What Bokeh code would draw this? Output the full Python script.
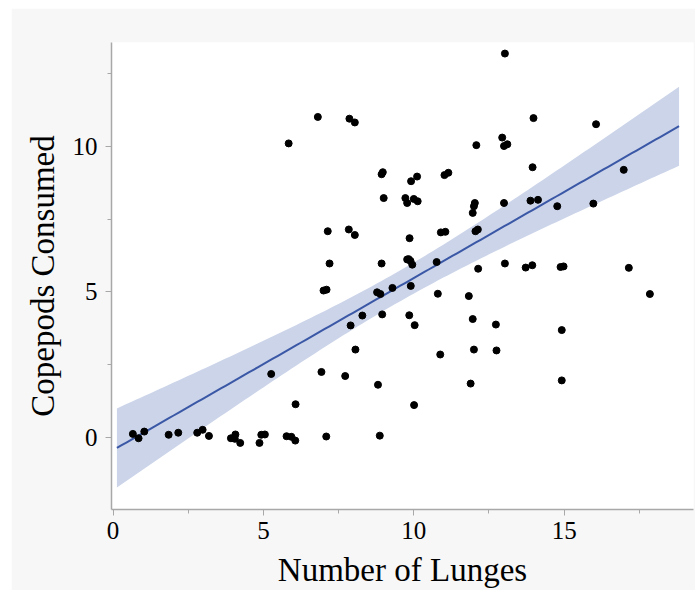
import numpy as np
from bokeh.plotting import figure
from bokeh.models import Range1d, SingleIntervalTicker, Spacer
from bokeh.layouts import column, row
from bokeh.embed import file_html
from bokeh.resources import INLINE

# Number of lunges (x) and copepods consumed (y)
lunges = [0.66, 0.85, 1.04, 1.85, 2.17, 2.80, 2.98, 3.19, 3.92, 4.07, 4.05, 4.23, 4.87, 4.93,
          5.05, 5.77, 5.93, 6.06, 7.09, 8.87,
          6.07, 10.01, 8.81, 11.89, 14.92, 7.72, 5.26, 6.93, 10.88, 12.00, 12.75, 8.06,
          14.92, 7.90, 10.03, 12.73, 11.96, 8.29, 8.95, 9.85,
          8.78, 8.89, 9.29, 9.90, 10.80, 11.83, 17.85, 7.00, 7.10,
          7.20, 8.93, 9.78, 9.83, 9.89, 9.95, 10.76, 12.14, 13.03, 13.72, 13.94, 14.88, 14.98, 17.15,
          9.86, 7.14, 7.84, 8.04, 10.90, 11.05, 12.05, 12.13, 11.96,
          9.00, 9.72, 9.78, 10.00, 10.13, 12.03, 12.00, 13.00, 13.88, 14.13, 14.77, 15.97,
          8.93, 8.97, 9.91, 10.11, 11.02, 11.15, 13.95, 16.98,
          5.84, 12.08, 12.94, 13.00, 13.11, 6.81, 7.86, 8.04, 13.98, 16.06, 13.03]
copepods = [0.12, -0.03, 0.20, 0.09, 0.16, 0.16, 0.26, 0.05, -0.03, 0.10, -0.05, -0.19, -0.19, 0.09,
            0.10, 0.04, 0.02, -0.11, 0.03, 0.06,
            1.14, 1.11, 1.81, 1.85, 1.96, 2.11, 2.18, 2.25, 2.85, 3.02, 2.99, 3.02,
            3.69, 3.85, 3.86, 3.88, 4.07, 4.19, 4.23, 4.20,
            4.99, 4.93, 5.14, 5.21, 4.94, 4.86, 4.93, 5.05, 5.08,
            5.98, 5.98, 6.12, 6.13, 6.07, 5.94, 6.03, 5.80, 5.98, 5.84, 5.92, 5.86, 5.88, 5.83,
            6.85, 7.09, 7.15, 6.96, 7.05, 7.07, 7.09, 7.15, 7.72,
            8.23, 8.23, 8.06, 8.20, 8.12, 8.06, 7.95, 8.06, 8.14, 8.17, 7.95, 8.04,
            9.05, 9.12, 8.81, 8.97, 9.02, 9.10, 9.29, 9.20,
            10.11, 10.05, 10.31, 10.02, 10.08, 11.02, 10.96, 10.83, 10.98, 10.77, 13.20]

x_title = "Number of Lunges"
y_title = "Copepods Consumed"

# Fitted line and its 95% confidence band
fit_x_span = [0.13, 18.82]   # extent of the drawn fit line
fit_intercept = -0.44
fit_slope = 0.592
band_center_x = 9.475        # where the band is narrowest
band_half_center = 0.53      # half-width of band at its narrowest
band_half_end = 1.36         # half-width of band at both ends of the line

xs = np.linspace(fit_x_span[0], fit_x_span[1], 120)
yfit = fit_intercept + fit_slope * xs
dx_end = fit_x_span[1] - band_center_x
k2 = (band_half_end ** 2 - band_half_center ** 2) / dx_end ** 2
half = np.sqrt(band_half_center ** 2 + k2 * (xs - band_center_x) ** 2)

p = figure(width=684, height=582,
           x_range=Range1d(-0.05, 19.3), y_range=Range1d(-2.48, 13.58),
           output_backend="svg", toolbar_location=None,
           min_border_left=100, min_border_right=2, min_border_top=34, min_border_bottom=78,
           border_fill_color="#f7f7f7", background_fill_color="white",
           outline_line_color=None)

p.varea(x=xs, y1=yfit - half, y2=yfit + half, fill_color="#cbd4e9", fill_alpha=1.0)
p.line(xs, yfit, line_color="#3b58a6", line_width=2)
p.scatter(lunges, copepods, size=7, fill_color="black", line_color="black")

p.xgrid.visible = False
p.ygrid.visible = False
p.xaxis.ticker = SingleIntervalTicker(interval=5, num_minor_ticks=2)
p.yaxis.ticker = SingleIntervalTicker(interval=5, num_minor_ticks=2)
p.xaxis.axis_label = x_title
p.yaxis.axis_label = y_title
for ax in (p.xaxis, p.yaxis):
    ax.axis_line_color = "#a8a8a8"
    ax.axis_line_width = 1.5
    ax.major_tick_line_color = "#a8a8a8"
    ax.minor_tick_line_color = "#a8a8a8"
    ax.major_tick_in = 0
    ax.major_tick_out = 6
    ax.minor_tick_in = 0
    ax.minor_tick_out = 4
    ax.major_label_text_font = "Liberation Serif"
    ax.major_label_text_font_size = "25px"
    ax.major_label_text_color = "black"
    ax.axis_label_text_font = "Liberation Serif"
    ax.axis_label_text_font_size = "33px"
    ax.axis_label_text_font_style = "normal"
    ax.axis_label_text_color = "black"
p.xaxis.major_label_standoff = 6
p.yaxis.major_label_standoff = 8
p.xaxis.axis_label_standoff = 10
p.yaxis.axis_label_standoff = 9

layout = column(Spacer(height=8), row(Spacer(width=11), p))
open("out.html", "w").write(file_html(layout, INLINE))
